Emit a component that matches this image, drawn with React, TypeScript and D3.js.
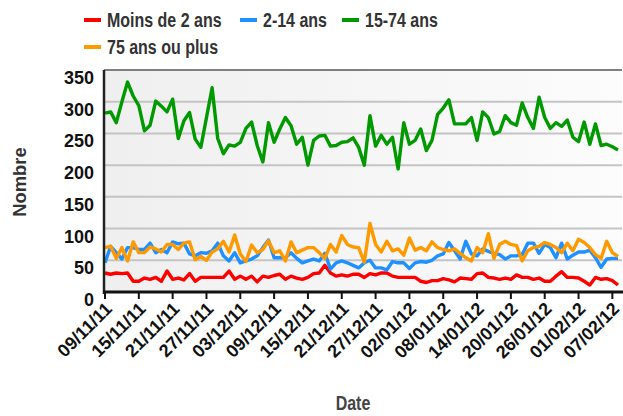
import React from 'react'
import * as d3 from 'd3'

// daily counts, 09/11/2011 -> 08/02/2012
const startDate = new Date(2011, 10, 9)

const seriesNames = ['Moins de 2 ans', '2-14 ans', '15-74 ans', '75 ans ou plus']
const seriesColors = ['#ff0000', '#1e90ff', '#009900', '#ff9900']

const moinsDe2 = [30, 28, 30, 29, 30, 17, 17, 22, 20, 23, 17, 33, 20, 22, 19, 29, 17, 23, 23, 23,
  23, 23, 33, 20, 25, 20, 25, 16, 25, 23, 26, 28, 20, 25, 22, 20, 23, 29, 30, 42,
  30, 25, 27, 25, 28, 28, 23, 29, 27, 30, 30, 25, 23, 23, 23, 23, 17, 15, 18, 18,
  21, 19, 16, 22, 21, 20, 29, 30, 23, 22, 20, 22, 20, 27, 23, 23, 20, 22, 17, 17,
  25, 32, 23, 23, 22, 17, 11, 23, 20, 21, 18, 11]

const de2a14 = [46, 72, 62, 52, 70, 70, 67, 67, 77, 62, 67, 62, 79, 76, 77, 60, 57, 62, 61, 65,
  77, 57, 49, 62, 46, 49, 52, 57, 70, 82, 54, 54, 54, 62, 53, 46, 49, 52, 49, 61,
  36, 46, 49, 46, 42, 38, 46, 50, 38, 38, 35, 48, 46, 46, 37, 46, 48, 47, 50, 57,
  60, 78, 65, 52, 80, 60, 57, 68, 64, 61, 59, 52, 57, 57, 59, 77, 77, 61, 75, 70,
  54, 77, 52, 58, 63, 63, 66, 54, 39, 52, 53, 53]

const de15a74 = [282, 284, 267, 300, 331, 309, 294, 254, 263, 301, 293, 284, 304, 242, 270, 283, 241, 228, 275, 322,
  242, 218, 232, 230, 236, 258, 268, 231, 205, 267, 236, 257, 275, 262, 233, 244, 200, 239, 246, 247,
  230, 231, 236, 237, 243, 228, 200, 278, 230, 247, 233, 244, 194, 267, 233, 239, 257, 223, 239, 280,
  290, 303, 265, 265, 265, 275, 239, 284, 275, 249, 253, 278, 267, 263, 298, 275, 258, 307, 275, 258,
  267, 261, 271, 244, 237, 268, 233, 265, 231, 233, 229, 224]

const plus75 = [70, 72, 53, 70, 49, 79, 62, 62, 71, 68, 63, 75, 75, 67, 77, 79, 51, 56, 50, 63,
  68, 80, 63, 90, 60, 48, 74, 62, 67, 81, 62, 65, 49, 79, 62, 66, 70, 70, 62, 53,
  75, 63, 89, 75, 71, 70, 47, 108, 75, 63, 80, 65, 68, 58, 85, 66, 70, 65, 79, 70,
  67, 65, 68, 61, 54, 49, 70, 62, 92, 53, 75, 80, 75, 73, 49, 65, 70, 72, 78, 75,
  70, 62, 77, 65, 83, 78, 70, 59, 53, 80, 62, 56]

const tickLabels = ['09/11/11', '15/11/11', '21/11/11', '27/11/11', '03/12/11', '09/12/11', '15/12/11', '21/12/11',
  '27/12/11', '02/01/12', '08/01/12', '14/01/12', '20/01/12', '26/01/12', '01/02/12', '07/02/12']

const yTicks = [0, 50, 100, 150, 200, 250, 300, 350]

const FONT = '"Liberation Sans", Arial, sans-serif'

export default function App() {
  const width = 623, height = 416
  const left = 104, right = 622, top = 70, bottom = 292

  const dates = de15a74.map((_, i) => d3.timeDay.offset(startDate, i))
  const x = d3.scaleTime()
    .domain([dates[0], dates[dates.length - 1]])
    .range([105, 618])
  const y = d3.scaleLinear().domain([0, 350]).range([bottom, top])

  const allSeries = [moinsDe2, de2a14, de15a74, plus75]
  const line = d3.line<number>()
    .x((_, i) => x(dates[i]))
    .y(d => y(d))

  const tickDates = tickLabels.map((_, i) => d3.timeDay.offset(startDate, i * 6))

  // legend layout
  const legendPos = [[84, 20], [240, 20], [342, 20], [84, 47]]

  return (
    <svg width={width} height={height} style={{ position: 'absolute', left: 0, top: 0, background: '#fff' }}
      fontFamily={FONT} fontWeight="bold">
      <defs>
        <linearGradient id="bg" x1="0" x2="1" y1="0" y2="0">
          <stop offset="0" stopColor="#efefef" />
          <stop offset="1" stopColor="#fcfcfc" />
        </linearGradient>
      </defs>

      {/* legend */}
      {seriesNames.map((name, i) => (
        <g key={name} transform={`translate(${legendPos[i][0]},${legendPos[i][1]})`}>
          <line x1={0} x2={17} y1={0} y2={0} stroke={seriesColors[i]} strokeWidth={4} />
          <text transform="translate(23,7) scale(1,1.22)" fontSize={16} fill="#333">{name}</text>
        </g>
      ))}

      {/* plot area */}
      <rect x={left} y={top} width={right - left} height={bottom - top} fill="url(#bg)" />
      {yTicks.filter(t => t > 0 && t < 350).map(t => (
        <line key={t} x1={left} x2={right} y1={y(t)} y2={y(t)} stroke="#c4c4c4" strokeWidth={2} />
      ))}
      <line x1={left} x2={right} y1={top} y2={top} stroke="#808080" strokeWidth={2} />

      {/* series */}
      {allSeries.map((s, i) => (
        <path key={i} d={line(s) || ''} fill="none" stroke={seriesColors[i]} strokeWidth={3.4}
          strokeLinejoin="round" />
      ))}

      {/* axes */}
      <line x1={left} x2={left} y1={top} y2={bottom + 2} stroke="#222" strokeWidth={2.5} />
      <line x1={left - 1} x2={width} y1={bottom} y2={bottom} stroke="#111" strokeWidth={3} />
      {tickDates.map((d, i) => (
        <g key={i}>
          <line x1={x(d)} x2={x(d)} y1={bottom} y2={bottom + 7} stroke="#111" strokeWidth={2} />
          <text transform={`translate(${x(d) + 8},${bottom + 18}) rotate(-45)`} textAnchor="end"
            fontSize={18} fill="#111">{tickLabels[i]}</text>
        </g>
      ))}
      {yTicks.map(t => (
        <text key={t} x={94} y={y(t) + 14} textAnchor="end" fontSize={18} fill="#111">{t}</text>
      ))}

      {/* axis titles */}
      <text transform="translate(26,182) scale(1.15,1.15) rotate(-90)" textAnchor="middle" fontSize={16} fill="#333">Nombre</text>
      <text transform="translate(353,410) scale(1,1.22)" textAnchor="middle" fontSize={16} fill="#444">Date</text>
    </svg>
  )
}
